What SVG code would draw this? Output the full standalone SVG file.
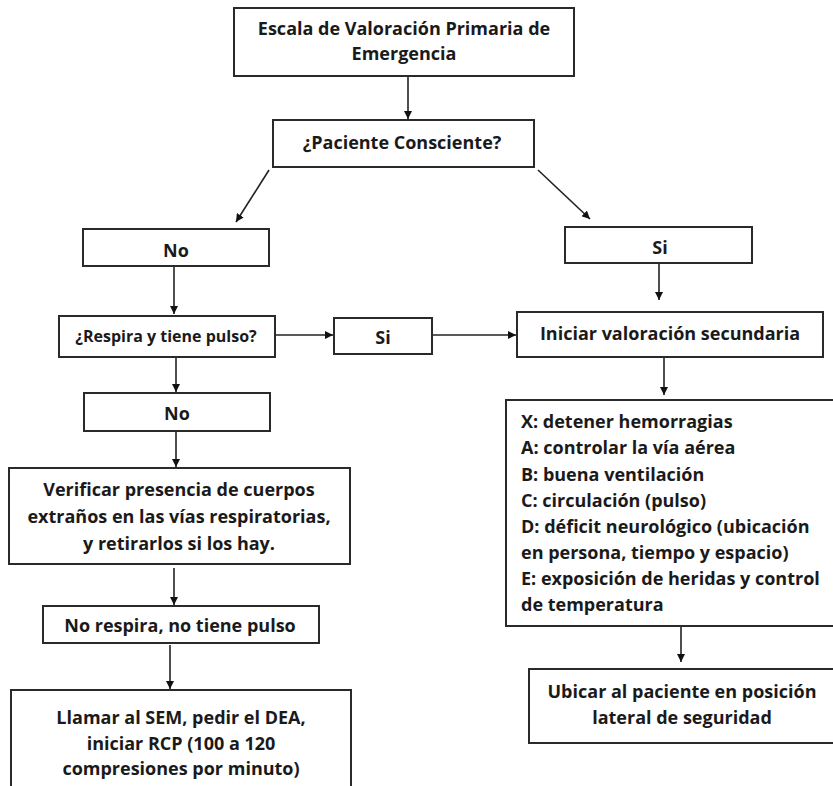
<svg xmlns="http://www.w3.org/2000/svg" width="833" height="786" viewBox="0 0 833 786">
<defs>
<style>
rect.b{fill:#fff;stroke:#2a2a2a;stroke-width:2}
text{font-family:"Open Sans","Liberation Sans",Arial,sans-serif;font-weight:bold;font-size:18px;fill:#1a1a1a;dominant-baseline:central}
.c{text-anchor:middle}
.s{font-size:16px}
line.a{stroke:#222;stroke-width:1.6;marker-end:url(#ah)}
</style>
<marker id="ah" viewBox="0 0 10 10" refX="10" refY="5" markerWidth="8" markerHeight="8" markerUnits="userSpaceOnUse" orient="auto">
<path d="M0,0 L10,5 L0,10 z" fill="#111"/>
</marker>
</defs>
<rect width="833" height="786" fill="#fff"/>
<g id="connectors">
<line class="a" x1="408" y1="76" x2="408" y2="119"/>
<line class="a" x1="269" y1="170" x2="236" y2="222"/>
<line class="a" x1="538" y1="170" x2="590" y2="219"/>
<line class="a" x1="174" y1="266" x2="174" y2="314"/>
<line class="a" x1="276" y1="335" x2="333" y2="335"/>
<line class="a" x1="432" y1="335" x2="516" y2="335"/>
<line class="a" x1="176" y1="357" x2="176" y2="392"/>
<line class="a" x1="176" y1="431" x2="176" y2="467"/>
<line class="a" x1="174" y1="568" x2="174" y2="605"/>
<line class="a" x1="170" y1="645" x2="170" y2="689"/>
<line class="a" x1="659" y1="264" x2="659" y2="300"/>
<line class="a" x1="664" y1="357" x2="664" y2="395"/>
<line class="a" x1="681" y1="627" x2="681" y2="662"/>
</g>
<g id="n1"><rect class="b" x="234" y="8" width="340" height="68"/>
<text class="c" x="404" y="28">Escala de Valoración Primaria de</text>
<text class="c" x="404" y="53">Emergencia</text></g>
<g id="n2"><rect class="b" x="273" y="120" width="261" height="47"/>
<text class="c" x="402" y="142">¿Paciente Consciente?</text></g>
<g id="n3"><rect class="b" x="83" y="229" width="186" height="37"/>
<text class="c" x="176" y="250">No</text></g>
<g id="n4"><rect class="b" x="59" y="316" width="216" height="41"/>
<text class="c s" x="166" y="336">¿Respira y tiene pulso?</text></g>
<g id="n5"><rect class="b" x="334" y="318" width="98" height="36"/>
<text class="c" x="383" y="337">Si</text></g>
<g id="n6"><rect class="b" x="84" y="393" width="186" height="38"/>
<text class="c" x="177" y="413">No</text></g>
<g id="n7"><rect class="b" x="9" y="468" width="341" height="96"/>
<text class="c" x="179" y="489">Verificar presencia de cuerpos</text>
<text class="c" x="179" y="516">extraños en las vías respiratorias,</text>
<text class="c" x="179" y="543">y retirarlos si los hay.</text></g>
<g id="n8"><rect class="b" x="43" y="606" width="276" height="37"/>
<text class="c" x="180" y="625">No respira, no tiene pulso</text></g>
<g id="n9"><rect class="b" x="11" y="690" width="340" height="110"/>
<text class="c" x="181" y="717">Llamar al SEM, pedir el DEA,</text>
<text class="c" x="181" y="743">iniciar RCP (100 a 120</text>
<text class="c" x="181" y="768">compresiones por minuto)</text></g>
<g id="n10"><rect class="b" x="565" y="227" width="187" height="36"/>
<text class="c" x="660" y="247">Si</text></g>
<g id="n11"><rect class="b" x="517" y="312" width="306" height="45"/>
<text class="c" x="670" y="333">Iniciar valoración secundaria</text></g>
<g id="n12"><rect class="b" x="506" y="400" width="340" height="226"/>
<text x="521" y="421">X: detener hemorragias</text>
<text x="521" y="447">A: controlar la vía aérea</text>
<text x="521" y="474">B: buena ventilación</text>
<text x="521" y="500">C: circulación (pulso)</text>
<text x="521" y="526">D: déficit neurológico (ubicación</text>
<text x="521" y="552">en persona, tiempo y espacio)</text>
<text x="521" y="578">E: exposición de heridas y control</text>
<text x="521" y="604">de temperatura</text></g>
<g id="n13"><rect class="b" x="529" y="669" width="320" height="74"/>
<text class="c" x="682" y="691">Ubicar al paciente en posición</text>
<text class="c" x="682" y="717">lateral de seguridad</text></g>
</svg>
